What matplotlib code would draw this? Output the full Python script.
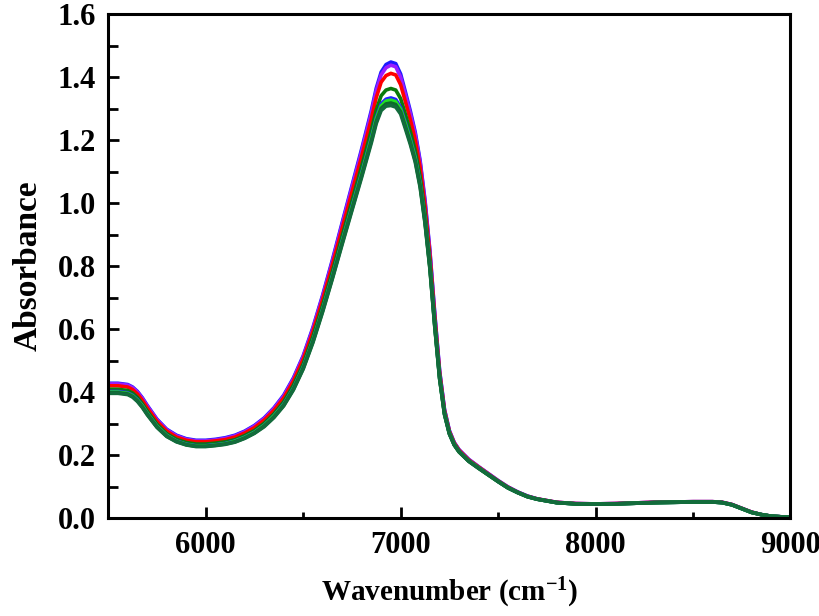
import matplotlib
matplotlib.use('Agg')
import matplotlib.pyplot as plt
from matplotlib.ticker import MultipleLocator

plt.rcParams['font.family'] = 'Liberation Serif'
plt.rcParams['font.weight'] = 'bold'
plt.rcParams['mathtext.fontset'] = 'custom'
plt.rcParams['mathtext.rm'] = 'Liberation Serif:bold'
plt.rcParams['mathtext.bf'] = 'Liberation Serif:bold'
plt.rcParams['mathtext.default'] = 'bf'

# wavenumber grid (cm-1)
wavenumber = [5500, 5550, 5600, 5625, 5650, 5675, 5700, 5750, 5800, 5850,
              5900, 5950, 6000, 6050, 6100, 6150, 6200, 6250, 6300, 6350,
              6400, 6450, 6500, 6550, 6600, 6650, 6700, 6750, 6800, 6850,
              6875, 6900, 6925, 6950, 6975, 7000, 7025, 7050, 7075, 7100,
              7125, 7150, 7175, 7200, 7225, 7250, 7275, 7300, 7350, 7400,
              7450, 7500, 7550, 7600, 7650, 7700, 7800, 7900, 8000, 8100,
              8200, 8300, 8400, 8500, 8600, 8650, 8700, 8750, 8800, 8850,
              8900, 8950, 9000]

blue1 = [0.428, 0.428, 0.424, 0.416, 0.402, 0.382, 0.358, 0.314, 0.282, 0.263,
         0.252, 0.247, 0.247, 0.250, 0.255, 0.263, 0.276, 0.294, 0.318, 0.350,
         0.390, 0.445, 0.515, 0.605, 0.708, 0.820, 0.938, 1.055, 1.172, 1.295,
         1.365, 1.416, 1.440, 1.448, 1.443, 1.410, 1.352, 1.292, 1.225, 1.135,
         1.010, 0.850, 0.650, 0.468, 0.345, 0.278, 0.240, 0.217, 0.186, 0.163,
         0.141, 0.119, 0.099, 0.083, 0.070, 0.061, 0.050, 0.046, 0.045, 0.046,
         0.048, 0.050, 0.051, 0.052, 0.052, 0.050, 0.043, 0.031, 0.019, 0.011,
         0.006, 0.004, 0.003]

purple = [0.426, 0.426, 0.422, 0.414, 0.400, 0.380, 0.356, 0.312, 0.280, 0.261,
          0.250, 0.245, 0.245, 0.248, 0.253, 0.261, 0.274, 0.292, 0.316, 0.348,
          0.387, 0.442, 0.512, 0.601, 0.704, 0.815, 0.933, 1.049, 1.165, 1.287,
          1.357, 1.407, 1.430, 1.438, 1.433, 1.400, 1.343, 1.284, 1.218, 1.129,
          1.004, 0.846, 0.647, 0.466, 0.344, 0.277, 0.239, 0.216, 0.186, 0.163,
          0.141, 0.119, 0.099, 0.083, 0.070, 0.061, 0.050, 0.046, 0.045, 0.046,
          0.048, 0.050, 0.051, 0.052, 0.052, 0.050, 0.043, 0.031, 0.019, 0.011,
          0.006, 0.004, 0.003]

red = [0.420, 0.420, 0.416, 0.408, 0.394, 0.374, 0.350, 0.307, 0.276, 0.257,
       0.247, 0.242, 0.242, 0.245, 0.249, 0.257, 0.270, 0.287, 0.311, 0.342,
       0.381, 0.435, 0.504, 0.592, 0.694, 0.804, 0.920, 1.034, 1.148, 1.268,
       1.335, 1.384, 1.405, 1.412, 1.407, 1.376, 1.321, 1.264, 1.200, 1.113,
       0.990, 0.835, 0.639, 0.461, 0.341, 0.275, 0.238, 0.215, 0.184, 0.162,
       0.140, 0.118, 0.098, 0.082, 0.069, 0.061, 0.050, 0.046, 0.045, 0.046,
       0.048, 0.050, 0.051, 0.052, 0.052, 0.050, 0.043, 0.031, 0.019, 0.011,
       0.006, 0.004, 0.003]

green1 = [0.409, 0.409, 0.405, 0.397, 0.383, 0.363, 0.340, 0.298, 0.268, 0.250,
          0.240, 0.235, 0.235, 0.238, 0.242, 0.249, 0.262, 0.278, 0.301, 0.331,
          0.369, 0.422, 0.489, 0.576, 0.676, 0.783, 0.896, 1.006, 1.117, 1.232,
          1.296, 1.341, 1.359, 1.364, 1.359, 1.332, 1.281, 1.227, 1.167, 1.083,
          0.965, 0.814, 0.624, 0.452, 0.335, 0.272, 0.235, 0.212, 0.182, 0.160,
          0.138, 0.117, 0.097, 0.082, 0.069, 0.060, 0.049, 0.045, 0.044, 0.045,
          0.047, 0.049, 0.050, 0.051, 0.051, 0.049, 0.042, 0.030, 0.018, 0.011,
          0.006, 0.004, 0.003]

blue2 = [0.402, 0.402, 0.398, 0.390, 0.376, 0.357, 0.333, 0.292, 0.263, 0.245,
         0.235, 0.230, 0.230, 0.233, 0.237, 0.245, 0.257, 0.273, 0.295, 0.325,
         0.362, 0.413, 0.480, 0.565, 0.664, 0.770, 0.881, 0.989, 1.097, 1.210,
         1.272, 1.315, 1.330, 1.334, 1.329, 1.304, 1.255, 1.204, 1.146, 1.065,
         0.948, 0.802, 0.615, 0.446, 0.332, 0.269, 0.233, 0.211, 0.181, 0.159,
         0.138, 0.116, 0.096, 0.081, 0.068, 0.060, 0.049, 0.045, 0.044, 0.045,
         0.047, 0.049, 0.050, 0.051, 0.051, 0.049, 0.042, 0.030, 0.018, 0.011,
         0.006, 0.004, 0.003]

lime = [0.400, 0.400, 0.396, 0.388, 0.374, 0.356, 0.332, 0.291, 0.262, 0.244,
        0.234, 0.229, 0.229, 0.232, 0.236, 0.244, 0.256, 0.272, 0.294, 0.324,
        0.360, 0.411, 0.478, 0.563, 0.662, 0.767, 0.878, 0.985, 1.093, 1.205,
        1.267, 1.309, 1.324, 1.327, 1.322, 1.298, 1.250, 1.199, 1.142, 1.061,
        0.945, 0.799, 0.613, 0.445, 0.331, 0.269, 0.233, 0.210, 0.181, 0.159,
        0.137, 0.116, 0.096, 0.081, 0.068, 0.060, 0.049, 0.045, 0.044, 0.045,
        0.047, 0.049, 0.050, 0.051, 0.051, 0.049, 0.042, 0.030, 0.018, 0.011,
        0.006, 0.004, 0.003]

green2 = [0.398, 0.398, 0.394, 0.386, 0.372, 0.353, 0.330, 0.289, 0.260, 0.243,
          0.233, 0.228, 0.228, 0.231, 0.235, 0.242, 0.254, 0.270, 0.292, 0.321,
          0.358, 0.409, 0.475, 0.560, 0.658, 0.763, 0.873, 0.980, 1.087, 1.198,
          1.259, 1.301, 1.315, 1.318, 1.313, 1.290, 1.242, 1.192, 1.135, 1.055,
          0.940, 0.795, 0.610, 0.443, 0.330, 0.268, 0.232, 0.210, 0.180, 0.158,
          0.137, 0.116, 0.096, 0.081, 0.068, 0.060, 0.049, 0.045, 0.044, 0.045,
          0.047, 0.049, 0.050, 0.051, 0.051, 0.049, 0.042, 0.030, 0.018, 0.011,
          0.006, 0.004, 0.003]

green3 = [0.396, 0.396, 0.392, 0.384, 0.370, 0.351, 0.328, 0.288, 0.259, 0.242,
          0.232, 0.227, 0.227, 0.230, 0.234, 0.241, 0.253, 0.269, 0.290, 0.319,
          0.356, 0.407, 0.473, 0.557, 0.655, 0.760, 0.869, 0.976, 1.082, 1.192,
          1.253, 1.294, 1.308, 1.310, 1.305, 1.283, 1.235, 1.186, 1.130, 1.050,
          0.936, 0.792, 0.608, 0.442, 0.329, 0.267, 0.232, 0.210, 0.180, 0.158,
          0.137, 0.116, 0.096, 0.081, 0.068, 0.060, 0.049, 0.045, 0.044, 0.045,
          0.047, 0.049, 0.050, 0.051, 0.051, 0.049, 0.042, 0.030, 0.018, 0.011,
          0.006, 0.004, 0.003]

series = [blue1, purple, red, green1, blue2, lime, green2, green3]
colors = ['#1a1aff', '#9a1cff', '#ff0000', '#0a7a0a', '#2020ff', '#22e022',
          '#0b6b2a', '#136b3c']

fig = plt.figure(figsize=(8.2, 6.16), dpi=100)
ax = fig.add_axes([0.132, 0.159, 0.832, 0.818])

for ys, c in zip(series, colors):
    ax.plot(wavenumber, ys, color=c, lw=2.6, solid_joinstyle='round')

ax.set_xlim(5500, 9000)
ax.set_ylim(0.0, 1.6)
ax.xaxis.set_major_locator(MultipleLocator(1000))
ax.xaxis.set_minor_locator(MultipleLocator(500))
ax.yaxis.set_major_locator(MultipleLocator(0.2))
ax.yaxis.set_minor_locator(MultipleLocator(0.1))
ax.set_xticks([6000, 7000, 8000, 9000])
ax.set_yticklabels([f'{v:.1f}' for v in ax.get_yticks()])

for s in ax.spines.values():
    s.set_linewidth(2.2)
ax.tick_params(which='major', direction='in', length=8, width=2,
               labelsize=22, pad=9, top=False, right=False)
ax.tick_params(axis='x', which='minor', direction='in', length=4.5, width=2,
               top=False)
ax.tick_params(axis='y', which='minor', direction='in', length=7, width=2,
               right=False)

ax.set_xlabel(r'Wavenumber (cm$^{-1}$)', fontsize=21, fontweight='bold',
              labelpad=12)
ax.set_ylabel('Absorbance', fontsize=24, fontweight='bold', labelpad=10)

fig.savefig('out.png', dpi=100)
